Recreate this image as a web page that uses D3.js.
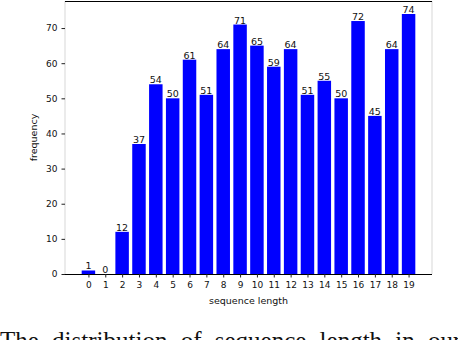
<!DOCTYPE html>
<html lang="en">
<head>
<meta charset="utf-8">
<title>Sequence length</title>
<script src="https://d3js.org/d3.v7.min.js"></script>
<style>
  body { margin: 0; background: #fff; }
  svg { display: block; }
  .tick text { font-family: "DejaVu Sans", sans-serif; font-size: 9px; fill: #111; }
  .vals { font-family: "DejaVu Sans", sans-serif; font-size: 9.5px; fill: #111; }
  .axlabel { font-family: "DejaVu Sans", sans-serif; font-size: 9.5px; fill: #111; }
  .caption { font-family: "Liberation Serif", "DejaVu Serif", serif; font-size: 25px; fill: #111; word-spacing: 7px; }
</style>
</head>
<body>
<div id="chart"></div>
<script>
// sequence lengths and how often each occurs
const lengths = d3.range(0, 20);
const counts = [1, 0, 12, 37, 54, 50, 61, 51, 64, 71, 65, 59, 64, 51, 55, 50, 72, 45, 64, 74];
const yTicks = [0, 10, 20, 30, 40, 50, 60, 70];

const w = 458, h = 340;
const m = {left: 65, right: 26, top: 1, bottom: 66};

const svg = d3.select("#chart").append("svg")
  .attr("width", w).attr("height", h);

// matplotlib style limits: bars of width 0.8 plus 5% margin
const x = d3.scaleLinear()
  .domain([-1.39, 20.39])
  .range([m.left, w - m.right]);
const y = d3.scaleLinear()
  .domain([0, 77.7])
  .range([h - m.bottom, m.top]);
const bw = 0.8;

svg.selectAll("rect.bar")
  .data(counts)
  .enter().append("rect")
  .attr("class", "bar")
  .attr("x", (d, i) => x(lengths[i] - bw / 2))
  .attr("width", x(bw) - x(0))
  .attr("y", d => y(d))
  .attr("height", d => y(0) - y(d))
  .attr("fill", "#0000ff");

svg.selectAll("text.vals")
  .data(counts)
  .enter().append("text")
  .attr("class", "vals")
  .attr("x", (d, i) => x(lengths[i]))
  .attr("y", d => y(d) - 1)
  .attr("text-anchor", "middle")
  .text(d => d);

// frame: left/right spines are faint in the scan
const x0 = m.left, x1 = w - m.right, y0 = m.top, y1 = h - m.bottom;
svg.append("line").attr("x1", x0).attr("x2", x0).attr("y1", y0).attr("y2", y1)
  .attr("stroke", "#e4e4e4").attr("stroke-width", 1.5);
svg.append("line").attr("x1", x1).attr("x2", x1).attr("y1", y0).attr("y2", y1)
  .attr("stroke", "#e4e4e4").attr("stroke-width", 1.5);
svg.append("line").attr("x1", x0).attr("x2", x1).attr("y1", y0 + 0.5).attr("y2", y0 + 0.5)
  .attr("stroke", "#000").attr("stroke-width", 1.2);

const xAxis = svg.append("g")
  .attr("transform", `translate(0,${y1})`)
  .call(d3.axisBottom(x).tickValues(lengths).tickSize(3.5).tickPadding(4).tickFormat(d3.format("d")));
xAxis.select(".domain").attr("stroke", "#000").attr("stroke-width", 1.2)
  .attr("d", `M${x0},0.5H${x1}`);
xAxis.selectAll(".tick line").attr("stroke", "#222");

const yAxis = svg.append("g")
  .attr("transform", `translate(${x0},0)`)
  .call(d3.axisLeft(y).tickValues(yTicks).tickSize(3.5).tickPadding(4));
yAxis.select(".domain").remove();
yAxis.selectAll(".tick line").attr("stroke", "#222");

svg.append("text")
  .attr("class", "axlabel")
  .attr("x", (x0 + x1) / 2)
  .attr("y", y1 + 30)
  .attr("text-anchor", "middle")
  .text("sequence length");

svg.append("text")
  .attr("class", "axlabel")
  .attr("transform", `translate(37,${(y0 + y1) / 2}) rotate(-90)`)
  .attr("text-anchor", "middle")
  .text("frequency");

// caption from the page, cut off by the image edge
svg.append("text")
  .attr("class", "caption")
  .attr("x", 0)
  .attr("y", 349)
  .text("The distribution of sequence length in our");
</script>
</body>
</html>
